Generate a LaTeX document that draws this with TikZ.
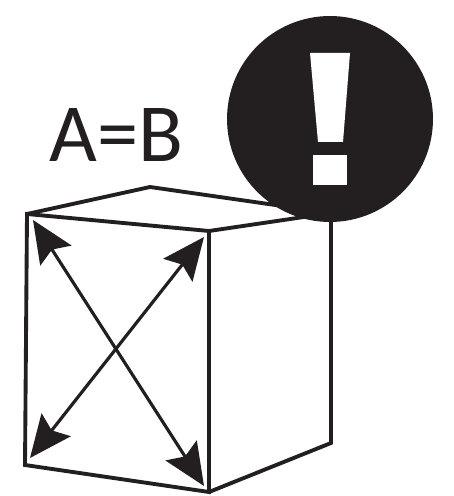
\documentclass[tikz,border=0pt]{standalone}
\usepackage{fontspec}
\setmainfont{Carlito}
\usetikzlibrary{arrows.meta}
\definecolor{inkblack}{HTML}{231F20}
\tikzset{
  edgeline/.style={draw=inkblack, line width=2.2pt, line join=miter},
  tiparrow/.style={draw=inkblack, line width=1.8pt,
    {Stealth[length=24pt, width=21pt, inset=4pt]}-{Stealth[length=24pt, width=21pt, inset=4pt]}},
  warnmark/.style={fill=white, draw=none}
}
\begin{document}
\begin{tikzpicture}[x=0.02cm, y=-0.02cm]
      \useasboundingbox (0,0) rectangle (453,496);
      \coordinate (fronttl) at (27,214);
      \coordinate (fronttr) at (209,231);
      \coordinate (frontbl) at (25,465);
      \coordinate (frontbr) at (209,492);
      \coordinate (backt) at (150,187);
      \coordinate (rightt) at (331,213);
      \coordinate (rightb) at (331,443);
      \coordinate (arrowa) at (33,220);
      \coordinate (arrowb) at (204,486);
      \coordinate (arrowc) at (204,237);
      \coordinate (arrowd) at (30,458);
      \draw[edgeline] (fronttl)--(fronttr)--(frontbr)--(frontbl)--cycle;
      \draw[edgeline] (fronttl)--(backt)--(rightt)--(rightb)--(frontbr);
      \draw[edgeline] (fronttr)--(rightt);
      \draw[tiparrow] (arrowa)--(arrowb);
      \draw[tiparrow] (arrowc)--(arrowd);
      \node[font=\fontsize{47pt}{47pt}\selectfont, text=inkblack, inner sep=0pt] (label) at (116.5,135) {A=B};
      \node[circle, fill=inkblack, minimum size=2.06*2cm, inner sep=0pt] (warn) at (330,119) {};
      \fill[warnmark] (310,53)--(350,53)--(343,142)--(318,142)--cycle;
      \fill[warnmark] (313,155) rectangle (347,185);
    \end{tikzpicture}
\end{document}
